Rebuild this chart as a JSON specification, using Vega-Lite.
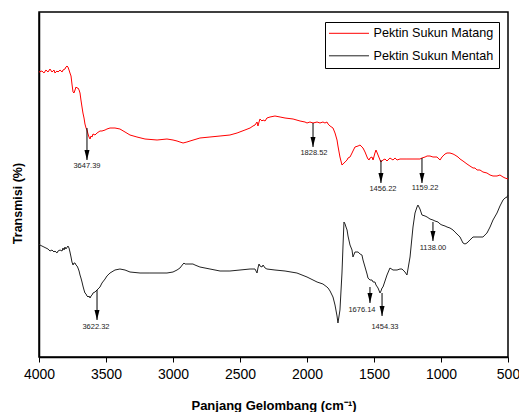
{
  "$schema": "https://vega.github.io/schema/vega-lite/v6.json",
  "width": 469,
  "height": 345,
  "autosize": {"type": "none"},
  "padding": {"left": 39, "top": 12, "right": 11, "bottom": 55},
  "background": "white",
  "config": {
    "font": "Liberation Sans",
    "view": {"stroke": "#000", "strokeWidth": 1.5},
    "axis": {"grid": false, "domainColor": "#000", "domainWidth": 1.5, "tickColor": "#000", "labelColor": "#000", "titleColor": "#000", "labelFont": "Liberation Sans", "titleFont": "Liberation Sans"}
  },
  "datasets": {
    "spec": [
      {"series":"Pektin Sukun Matang","wn":4000,"T":285},
      {"series":"Pektin Sukun Matang","wn":3978,"T":286},
      {"series":"Pektin Sukun Matang","wn":3963,"T":284},
      {"series":"Pektin Sukun Matang","wn":3948,"T":287},
      {"series":"Pektin Sukun Matang","wn":3933,"T":285},
      {"series":"Pektin Sukun Matang","wn":3918,"T":288},
      {"series":"Pektin Sukun Matang","wn":3903,"T":285},
      {"series":"Pektin Sukun Matang","wn":3888,"T":287},
      {"series":"Pektin Sukun Matang","wn":3881,"T":284},
      {"series":"Pektin Sukun Matang","wn":3866,"T":286},
      {"series":"Pektin Sukun Matang","wn":3858,"T":285},
      {"series":"Pektin Sukun Matang","wn":3843,"T":287},
      {"series":"Pektin Sukun Matang","wn":3828,"T":285},
      {"series":"Pektin Sukun Matang","wn":3821,"T":287},
      {"series":"Pektin Sukun Matang","wn":3806,"T":288},
      {"series":"Pektin Sukun Matang","wn":3799,"T":290},
      {"series":"Pektin Sukun Matang","wn":3791,"T":291},
      {"series":"Pektin Sukun Matang","wn":3784,"T":290},
      {"series":"Pektin Sukun Matang","wn":3776,"T":287},
      {"series":"Pektin Sukun Matang","wn":3769,"T":284},
      {"series":"Pektin Sukun Matang","wn":3761,"T":281},
      {"series":"Pektin Sukun Matang","wn":3754,"T":273},
      {"series":"Pektin Sukun Matang","wn":3746,"T":265},
      {"series":"Pektin Sukun Matang","wn":3739,"T":264},
      {"series":"Pektin Sukun Matang","wn":3731,"T":267},
      {"series":"Pektin Sukun Matang","wn":3724,"T":270},
      {"series":"Pektin Sukun Matang","wn":3716,"T":269},
      {"series":"Pektin Sukun Matang","wn":3709,"T":269},
      {"series":"Pektin Sukun Matang","wn":3701,"T":267},
      {"series":"Pektin Sukun Matang","wn":3694,"T":264},
      {"series":"Pektin Sukun Matang","wn":3687,"T":257},
      {"series":"Pektin Sukun Matang","wn":3679,"T":250},
      {"series":"Pektin Sukun Matang","wn":3672,"T":244},
      {"series":"Pektin Sukun Matang","wn":3664,"T":239},
      {"series":"Pektin Sukun Matang","wn":3657,"T":233},
      {"series":"Pektin Sukun Matang","wn":3649,"T":229},
      {"series":"Pektin Sukun Matang","wn":3642,"T":227},
      {"series":"Pektin Sukun Matang","wn":3634,"T":223},
      {"series":"Pektin Sukun Matang","wn":3627,"T":220},
      {"series":"Pektin Sukun Matang","wn":3619,"T":218},
      {"series":"Pektin Sukun Matang","wn":3612,"T":221},
      {"series":"Pektin Sukun Matang","wn":3604,"T":220},
      {"series":"Pektin Sukun Matang","wn":3597,"T":223},
      {"series":"Pektin Sukun Matang","wn":3582,"T":222},
      {"series":"Pektin Sukun Matang","wn":3567,"T":224},
      {"series":"Pektin Sukun Matang","wn":3545,"T":226},
      {"series":"Pektin Sukun Matang","wn":3530,"T":226},
      {"series":"Pektin Sukun Matang","wn":3507,"T":227},
      {"series":"Pektin Sukun Matang","wn":3493,"T":228},
      {"series":"Pektin Sukun Matang","wn":3470,"T":229},
      {"series":"Pektin Sukun Matang","wn":3433,"T":229},
      {"series":"Pektin Sukun Matang","wn":3396,"T":228},
      {"series":"Pektin Sukun Matang","wn":3358,"T":225},
      {"series":"Pektin Sukun Matang","wn":3321,"T":222},
      {"series":"Pektin Sukun Matang","wn":3269,"T":220},
      {"series":"Pektin Sukun Matang","wn":3209,"T":218},
      {"series":"Pektin Sukun Matang","wn":3119,"T":217},
      {"series":"Pektin Sukun Matang","wn":3045,"T":218},
      {"series":"Pektin Sukun Matang","wn":3000,"T":217},
      {"series":"Pektin Sukun Matang","wn":2970,"T":216},
      {"series":"Pektin Sukun Matang","wn":2948,"T":215},
      {"series":"Pektin Sukun Matang","wn":2925,"T":214},
      {"series":"Pektin Sukun Matang","wn":2896,"T":215},
      {"series":"Pektin Sukun Matang","wn":2873,"T":216},
      {"series":"Pektin Sukun Matang","wn":2799,"T":219},
      {"series":"Pektin Sukun Matang","wn":2724,"T":220},
      {"series":"Pektin Sukun Matang","wn":2649,"T":221},
      {"series":"Pektin Sukun Matang","wn":2575,"T":222},
      {"series":"Pektin Sukun Matang","wn":2522,"T":224},
      {"series":"Pektin Sukun Matang","wn":2463,"T":227},
      {"series":"Pektin Sukun Matang","wn":2425,"T":229},
      {"series":"Pektin Sukun Matang","wn":2403,"T":231},
      {"series":"Pektin Sukun Matang","wn":2388,"T":232},
      {"series":"Pektin Sukun Matang","wn":2373,"T":235},
      {"series":"Pektin Sukun Matang","wn":2366,"T":231},
      {"series":"Pektin Sukun Matang","wn":2358,"T":235},
      {"series":"Pektin Sukun Matang","wn":2351,"T":238},
      {"series":"Pektin Sukun Matang","wn":2336,"T":236},
      {"series":"Pektin Sukun Matang","wn":2328,"T":237},
      {"series":"Pektin Sukun Matang","wn":2313,"T":236},
      {"series":"Pektin Sukun Matang","wn":2299,"T":239},
      {"series":"Pektin Sukun Matang","wn":2276,"T":240},
      {"series":"Pektin Sukun Matang","wn":2239,"T":241},
      {"series":"Pektin Sukun Matang","wn":2201,"T":240},
      {"series":"Pektin Sukun Matang","wn":2164,"T":239},
      {"series":"Pektin Sukun Matang","wn":2104,"T":238},
      {"series":"Pektin Sukun Matang","wn":2052,"T":236},
      {"series":"Pektin Sukun Matang","wn":2015,"T":235},
      {"series":"Pektin Sukun Matang","wn":2000,"T":234},
      {"series":"Pektin Sukun Matang","wn":1978,"T":235},
      {"series":"Pektin Sukun Matang","wn":1955,"T":234},
      {"series":"Pektin Sukun Matang","wn":1925,"T":235},
      {"series":"Pektin Sukun Matang","wn":1903,"T":234},
      {"series":"Pektin Sukun Matang","wn":1881,"T":235},
      {"series":"Pektin Sukun Matang","wn":1866,"T":234},
      {"series":"Pektin Sukun Matang","wn":1851,"T":235},
      {"series":"Pektin Sukun Matang","wn":1843,"T":233},
      {"series":"Pektin Sukun Matang","wn":1828,"T":231},
      {"series":"Pektin Sukun Matang","wn":1806,"T":229},
      {"series":"Pektin Sukun Matang","wn":1791,"T":224},
      {"series":"Pektin Sukun Matang","wn":1776,"T":217},
      {"series":"Pektin Sukun Matang","wn":1769,"T":211},
      {"series":"Pektin Sukun Matang","wn":1754,"T":200},
      {"series":"Pektin Sukun Matang","wn":1739,"T":192},
      {"series":"Pektin Sukun Matang","wn":1731,"T":193},
      {"series":"Pektin Sukun Matang","wn":1716,"T":195},
      {"series":"Pektin Sukun Matang","wn":1701,"T":197},
      {"series":"Pektin Sukun Matang","wn":1694,"T":199},
      {"series":"Pektin Sukun Matang","wn":1679,"T":200},
      {"series":"Pektin Sukun Matang","wn":1664,"T":204},
      {"series":"Pektin Sukun Matang","wn":1657,"T":206},
      {"series":"Pektin Sukun Matang","wn":1642,"T":210},
      {"series":"Pektin Sukun Matang","wn":1619,"T":211},
      {"series":"Pektin Sukun Matang","wn":1604,"T":212},
      {"series":"Pektin Sukun Matang","wn":1590,"T":210},
      {"series":"Pektin Sukun Matang","wn":1582,"T":209},
      {"series":"Pektin Sukun Matang","wn":1567,"T":205},
      {"series":"Pektin Sukun Matang","wn":1552,"T":200},
      {"series":"Pektin Sukun Matang","wn":1545,"T":198},
      {"series":"Pektin Sukun Matang","wn":1537,"T":197},
      {"series":"Pektin Sukun Matang","wn":1530,"T":199},
      {"series":"Pektin Sukun Matang","wn":1515,"T":200},
      {"series":"Pektin Sukun Matang","wn":1507,"T":197},
      {"series":"Pektin Sukun Matang","wn":1493,"T":204},
      {"series":"Pektin Sukun Matang","wn":1485,"T":207},
      {"series":"Pektin Sukun Matang","wn":1470,"T":202},
      {"series":"Pektin Sukun Matang","wn":1455,"T":197},
      {"series":"Pektin Sukun Matang","wn":1448,"T":195},
      {"series":"Pektin Sukun Matang","wn":1433,"T":197},
      {"series":"Pektin Sukun Matang","wn":1418,"T":198},
      {"series":"Pektin Sukun Matang","wn":1403,"T":196},
      {"series":"Pektin Sukun Matang","wn":1381,"T":199},
      {"series":"Pektin Sukun Matang","wn":1358,"T":197},
      {"series":"Pektin Sukun Matang","wn":1343,"T":199},
      {"series":"Pektin Sukun Matang","wn":1328,"T":197},
      {"series":"Pektin Sukun Matang","wn":1306,"T":198},
      {"series":"Pektin Sukun Matang","wn":1254,"T":198},
      {"series":"Pektin Sukun Matang","wn":1209,"T":198},
      {"series":"Pektin Sukun Matang","wn":1179,"T":198},
      {"series":"Pektin Sukun Matang","wn":1157,"T":198},
      {"series":"Pektin Sukun Matang","wn":1142,"T":199},
      {"series":"Pektin Sukun Matang","wn":1119,"T":200},
      {"series":"Pektin Sukun Matang","wn":1104,"T":201},
      {"series":"Pektin Sukun Matang","wn":1082,"T":201},
      {"series":"Pektin Sukun Matang","wn":1060,"T":200},
      {"series":"Pektin Sukun Matang","wn":1030,"T":200},
      {"series":"Pektin Sukun Matang","wn":1007,"T":197},
      {"series":"Pektin Sukun Matang","wn":993,"T":200},
      {"series":"Pektin Sukun Matang","wn":970,"T":203},
      {"series":"Pektin Sukun Matang","wn":955,"T":204},
      {"series":"Pektin Sukun Matang","wn":933,"T":204},
      {"series":"Pektin Sukun Matang","wn":910,"T":203},
      {"series":"Pektin Sukun Matang","wn":896,"T":202},
      {"series":"Pektin Sukun Matang","wn":873,"T":200},
      {"series":"Pektin Sukun Matang","wn":858,"T":198},
      {"series":"Pektin Sukun Matang","wn":836,"T":196},
      {"series":"Pektin Sukun Matang","wn":806,"T":193},
      {"series":"Pektin Sukun Matang","wn":784,"T":191},
      {"series":"Pektin Sukun Matang","wn":761,"T":189},
      {"series":"Pektin Sukun Matang","wn":746,"T":189},
      {"series":"Pektin Sukun Matang","wn":731,"T":187},
      {"series":"Pektin Sukun Matang","wn":709,"T":187},
      {"series":"Pektin Sukun Matang","wn":687,"T":185},
      {"series":"Pektin Sukun Matang","wn":657,"T":184},
      {"series":"Pektin Sukun Matang","wn":634,"T":182},
      {"series":"Pektin Sukun Matang","wn":612,"T":181},
      {"series":"Pektin Sukun Matang","wn":582,"T":181},
      {"series":"Pektin Sukun Matang","wn":560,"T":182},
      {"series":"Pektin Sukun Matang","wn":537,"T":180},
      {"series":"Pektin Sukun Matang","wn":522,"T":179},
      {"series":"Pektin Sukun Matang","wn":500,"T":178},
      {"series":"Pektin Sukun Mentah","wn":4000,"T":113},
      {"series":"Pektin Sukun Mentah","wn":3993,"T":112},
      {"series":"Pektin Sukun Mentah","wn":3978,"T":111},
      {"series":"Pektin Sukun Mentah","wn":3963,"T":110},
      {"series":"Pektin Sukun Mentah","wn":3948,"T":109},
      {"series":"Pektin Sukun Mentah","wn":3933,"T":108},
      {"series":"Pektin Sukun Mentah","wn":3918,"T":106},
      {"series":"Pektin Sukun Mentah","wn":3903,"T":107},
      {"series":"Pektin Sukun Mentah","wn":3888,"T":105},
      {"series":"Pektin Sukun Mentah","wn":3881,"T":106},
      {"series":"Pektin Sukun Mentah","wn":3866,"T":104},
      {"series":"Pektin Sukun Mentah","wn":3858,"T":106},
      {"series":"Pektin Sukun Mentah","wn":3843,"T":107},
      {"series":"Pektin Sukun Mentah","wn":3828,"T":106},
      {"series":"Pektin Sukun Mentah","wn":3821,"T":109},
      {"series":"Pektin Sukun Mentah","wn":3813,"T":107},
      {"series":"Pektin Sukun Mentah","wn":3806,"T":110},
      {"series":"Pektin Sukun Mentah","wn":3799,"T":108},
      {"series":"Pektin Sukun Mentah","wn":3784,"T":111},
      {"series":"Pektin Sukun Mentah","wn":3776,"T":109},
      {"series":"Pektin Sukun Mentah","wn":3769,"T":105},
      {"series":"Pektin Sukun Mentah","wn":3761,"T":100},
      {"series":"Pektin Sukun Mentah","wn":3754,"T":95},
      {"series":"Pektin Sukun Mentah","wn":3746,"T":92},
      {"series":"Pektin Sukun Mentah","wn":3739,"T":94},
      {"series":"Pektin Sukun Mentah","wn":3731,"T":94},
      {"series":"Pektin Sukun Mentah","wn":3724,"T":92},
      {"series":"Pektin Sukun Mentah","wn":3716,"T":91},
      {"series":"Pektin Sukun Mentah","wn":3709,"T":89},
      {"series":"Pektin Sukun Mentah","wn":3701,"T":86},
      {"series":"Pektin Sukun Mentah","wn":3694,"T":82},
      {"series":"Pektin Sukun Mentah","wn":3687,"T":79},
      {"series":"Pektin Sukun Mentah","wn":3679,"T":75},
      {"series":"Pektin Sukun Mentah","wn":3672,"T":71},
      {"series":"Pektin Sukun Mentah","wn":3664,"T":67},
      {"series":"Pektin Sukun Mentah","wn":3657,"T":64},
      {"series":"Pektin Sukun Mentah","wn":3649,"T":63},
      {"series":"Pektin Sukun Mentah","wn":3642,"T":61},
      {"series":"Pektin Sukun Mentah","wn":3634,"T":60},
      {"series":"Pektin Sukun Mentah","wn":3627,"T":61},
      {"series":"Pektin Sukun Mentah","wn":3619,"T":59},
      {"series":"Pektin Sukun Mentah","wn":3612,"T":61},
      {"series":"Pektin Sukun Mentah","wn":3604,"T":62},
      {"series":"Pektin Sukun Mentah","wn":3597,"T":64},
      {"series":"Pektin Sukun Mentah","wn":3582,"T":65},
      {"series":"Pektin Sukun Mentah","wn":3567,"T":67},
      {"series":"Pektin Sukun Mentah","wn":3545,"T":70},
      {"series":"Pektin Sukun Mentah","wn":3530,"T":74},
      {"series":"Pektin Sukun Mentah","wn":3507,"T":78},
      {"series":"Pektin Sukun Mentah","wn":3493,"T":81},
      {"series":"Pektin Sukun Mentah","wn":3470,"T":84},
      {"series":"Pektin Sukun Mentah","wn":3433,"T":87},
      {"series":"Pektin Sukun Mentah","wn":3396,"T":88},
      {"series":"Pektin Sukun Mentah","wn":3358,"T":87},
      {"series":"Pektin Sukun Mentah","wn":3321,"T":85},
      {"series":"Pektin Sukun Mentah","wn":3246,"T":84},
      {"series":"Pektin Sukun Mentah","wn":3172,"T":84},
      {"series":"Pektin Sukun Mentah","wn":3097,"T":84},
      {"series":"Pektin Sukun Mentah","wn":3045,"T":84},
      {"series":"Pektin Sukun Mentah","wn":3000,"T":85},
      {"series":"Pektin Sukun Mentah","wn":2970,"T":87},
      {"series":"Pektin Sukun Mentah","wn":2948,"T":89},
      {"series":"Pektin Sukun Mentah","wn":2925,"T":93},
      {"series":"Pektin Sukun Mentah","wn":2918,"T":94},
      {"series":"Pektin Sukun Mentah","wn":2910,"T":93},
      {"series":"Pektin Sukun Mentah","wn":2896,"T":93},
      {"series":"Pektin Sukun Mentah","wn":2873,"T":93},
      {"series":"Pektin Sukun Mentah","wn":2851,"T":93},
      {"series":"Pektin Sukun Mentah","wn":2836,"T":92},
      {"series":"Pektin Sukun Mentah","wn":2799,"T":90},
      {"series":"Pektin Sukun Mentah","wn":2724,"T":88},
      {"series":"Pektin Sukun Mentah","wn":2649,"T":86},
      {"series":"Pektin Sukun Mentah","wn":2575,"T":86},
      {"series":"Pektin Sukun Mentah","wn":2500,"T":87},
      {"series":"Pektin Sukun Mentah","wn":2425,"T":88},
      {"series":"Pektin Sukun Mentah","wn":2388,"T":88},
      {"series":"Pektin Sukun Mentah","wn":2373,"T":84},
      {"series":"Pektin Sukun Mentah","wn":2366,"T":89},
      {"series":"Pektin Sukun Mentah","wn":2358,"T":93},
      {"series":"Pektin Sukun Mentah","wn":2351,"T":91},
      {"series":"Pektin Sukun Mentah","wn":2336,"T":90},
      {"series":"Pektin Sukun Mentah","wn":2328,"T":92},
      {"series":"Pektin Sukun Mentah","wn":2313,"T":89},
      {"series":"Pektin Sukun Mentah","wn":2299,"T":88},
      {"series":"Pektin Sukun Mentah","wn":2239,"T":87},
      {"series":"Pektin Sukun Mentah","wn":2164,"T":86},
      {"series":"Pektin Sukun Mentah","wn":2075,"T":84},
      {"series":"Pektin Sukun Mentah","wn":2000,"T":80},
      {"series":"Pektin Sukun Mentah","wn":1925,"T":75},
      {"series":"Pektin Sukun Mentah","wn":1881,"T":73},
      {"series":"Pektin Sukun Mentah","wn":1851,"T":70},
      {"series":"Pektin Sukun Mentah","wn":1843,"T":69},
      {"series":"Pektin Sukun Mentah","wn":1828,"T":66},
      {"series":"Pektin Sukun Mentah","wn":1806,"T":60},
      {"series":"Pektin Sukun Mentah","wn":1791,"T":52},
      {"series":"Pektin Sukun Mentah","wn":1776,"T":41},
      {"series":"Pektin Sukun Mentah","wn":1769,"T":34},
      {"series":"Pektin Sukun Mentah","wn":1754,"T":47},
      {"series":"Pektin Sukun Mentah","wn":1739,"T":84},
      {"series":"Pektin Sukun Mentah","wn":1731,"T":112},
      {"series":"Pektin Sukun Mentah","wn":1724,"T":135},
      {"series":"Pektin Sukun Mentah","wn":1716,"T":133},
      {"series":"Pektin Sukun Mentah","wn":1709,"T":130},
      {"series":"Pektin Sukun Mentah","wn":1701,"T":127},
      {"series":"Pektin Sukun Mentah","wn":1694,"T":121},
      {"series":"Pektin Sukun Mentah","wn":1679,"T":112},
      {"series":"Pektin Sukun Mentah","wn":1664,"T":107},
      {"series":"Pektin Sukun Mentah","wn":1657,"T":100},
      {"series":"Pektin Sukun Mentah","wn":1642,"T":105},
      {"series":"Pektin Sukun Mentah","wn":1619,"T":105},
      {"series":"Pektin Sukun Mentah","wn":1604,"T":103},
      {"series":"Pektin Sukun Mentah","wn":1590,"T":102},
      {"series":"Pektin Sukun Mentah","wn":1582,"T":97},
      {"series":"Pektin Sukun Mentah","wn":1567,"T":90},
      {"series":"Pektin Sukun Mentah","wn":1552,"T":83},
      {"series":"Pektin Sukun Mentah","wn":1545,"T":79},
      {"series":"Pektin Sukun Mentah","wn":1530,"T":77},
      {"series":"Pektin Sukun Mentah","wn":1515,"T":77},
      {"series":"Pektin Sukun Mentah","wn":1507,"T":75},
      {"series":"Pektin Sukun Mentah","wn":1493,"T":75},
      {"series":"Pektin Sukun Mentah","wn":1485,"T":72},
      {"series":"Pektin Sukun Mentah","wn":1470,"T":69},
      {"series":"Pektin Sukun Mentah","wn":1455,"T":64},
      {"series":"Pektin Sukun Mentah","wn":1448,"T":66},
      {"series":"Pektin Sukun Mentah","wn":1440,"T":69},
      {"series":"Pektin Sukun Mentah","wn":1433,"T":70},
      {"series":"Pektin Sukun Mentah","wn":1418,"T":76},
      {"series":"Pektin Sukun Mentah","wn":1403,"T":82},
      {"series":"Pektin Sukun Mentah","wn":1381,"T":89},
      {"series":"Pektin Sukun Mentah","wn":1358,"T":87},
      {"series":"Pektin Sukun Mentah","wn":1328,"T":87},
      {"series":"Pektin Sukun Mentah","wn":1306,"T":88},
      {"series":"Pektin Sukun Mentah","wn":1291,"T":88},
      {"series":"Pektin Sukun Mentah","wn":1269,"T":85},
      {"series":"Pektin Sukun Mentah","wn":1254,"T":82},
      {"series":"Pektin Sukun Mentah","wn":1231,"T":100},
      {"series":"Pektin Sukun Mentah","wn":1209,"T":130},
      {"series":"Pektin Sukun Mentah","wn":1194,"T":144},
      {"series":"Pektin Sukun Mentah","wn":1179,"T":150},
      {"series":"Pektin Sukun Mentah","wn":1172,"T":152},
      {"series":"Pektin Sukun Mentah","wn":1157,"T":148},
      {"series":"Pektin Sukun Mentah","wn":1142,"T":142},
      {"series":"Pektin Sukun Mentah","wn":1119,"T":141},
      {"series":"Pektin Sukun Mentah","wn":1104,"T":140},
      {"series":"Pektin Sukun Mentah","wn":1082,"T":138},
      {"series":"Pektin Sukun Mentah","wn":1060,"T":137},
      {"series":"Pektin Sukun Mentah","wn":1045,"T":136},
      {"series":"Pektin Sukun Mentah","wn":1022,"T":135},
      {"series":"Pektin Sukun Mentah","wn":1007,"T":133},
      {"series":"Pektin Sukun Mentah","wn":993,"T":132},
      {"series":"Pektin Sukun Mentah","wn":970,"T":131},
      {"series":"Pektin Sukun Mentah","wn":955,"T":130},
      {"series":"Pektin Sukun Mentah","wn":933,"T":129},
      {"series":"Pektin Sukun Mentah","wn":910,"T":127},
      {"series":"Pektin Sukun Mentah","wn":896,"T":125},
      {"series":"Pektin Sukun Mentah","wn":873,"T":122},
      {"series":"Pektin Sukun Mentah","wn":858,"T":120},
      {"series":"Pektin Sukun Mentah","wn":836,"T":114},
      {"series":"Pektin Sukun Mentah","wn":821,"T":113},
      {"series":"Pektin Sukun Mentah","wn":806,"T":114},
      {"series":"Pektin Sukun Mentah","wn":784,"T":117},
      {"series":"Pektin Sukun Mentah","wn":761,"T":120},
      {"series":"Pektin Sukun Mentah","wn":731,"T":120},
      {"series":"Pektin Sukun Mentah","wn":709,"T":120},
      {"series":"Pektin Sukun Mentah","wn":687,"T":120},
      {"series":"Pektin Sukun Mentah","wn":657,"T":124},
      {"series":"Pektin Sukun Mentah","wn":634,"T":130},
      {"series":"Pektin Sukun Mentah","wn":612,"T":137},
      {"series":"Pektin Sukun Mentah","wn":582,"T":144},
      {"series":"Pektin Sukun Mentah","wn":560,"T":151},
      {"series":"Pektin Sukun Mentah","wn":537,"T":157},
      {"series":"Pektin Sukun Mentah","wn":522,"T":159},
      {"series":"Pektin Sukun Mentah","wn":507,"T":160},
      {"series":"Pektin Sukun Mentah","wn":500,"T":162}
    ],
    "ann": [
      {"label":"3647.39","ax":3642,"top":229,"tip":197,"lx":3642,"ly":191},
      {"label":"1828.52","ax":1955,"top":234,"tip":210,"lx":1948,"ly":204},
      {"label":"1456.22","ax":1448,"top":197,"tip":174,"lx":1433,"ly":168},
      {"label":"1159.22","ax":1142,"top":199,"tip":174,"lx":1119,"ly":169},
      {"label":"3622.32","ax":3567,"top":67,"tip":37,"lx":3575,"ly":30},
      {"label":"1676.14","ax":1530,"top":70,"tip":54,"lx":1590,"ly":47},
      {"label":"1454.33","ax":1440,"top":64,"tip":41,"lx":1418,"ly":30},
      {"label":"1138.00","ax":1060,"top":135,"tip":116,"lx":1060,"ly":109}
    ]
  },
  "layer": [
    {
      "data": {"name": "spec"},
      "mark": {"type": "line", "strokeWidth": 1},
      "encoding": {
        "x": {
          "field": "wn", "type": "quantitative", "title": "Panjang Gelombang (cm⁻¹)",
          "scale": {"domain": [500, 4000], "reverse": true, "nice": false, "zero": false},
          "axis": {
            "values": [4000, 3750, 3500, 3250, 3000, 2750, 2500, 2250, 2000, 1750, 1500, 1250, 1000, 750, 500],
            "format": "d",
            "labelExpr": "datum.value % 500 === 0 ? datum.label : ''",
            "tickSize": {"condition": {"test": "datum.value % 500 === 0", "value": 5}, "value": 3},
            "tickWidth": 1,
            "labelFontSize": 14,
            "labelPadding": 5,
            "labelOverlap": false,
            "labelFlush": false,
            "titleFontSize": 13,
            "titleFontWeight": "bold",
            "titleY": 48,
            "titleBaseline": "middle"
          }
        },
        "y": {
          "field": "T", "type": "quantitative", "title": "Transmisi (%)",
          "scale": {"domain": [0, 345], "nice": false, "zero": false},
          "axis": {"ticks": false, "labels": false, "titleFontSize": 12.5, "titleFontWeight": "bold", "titleX": -22, "titleY": 191, "titleAngle": -90, "titleBaseline": "middle", "titleAlign": "center"}
        },
        "color": {
          "field": "series", "type": "nominal",
          "scale": {"domain": ["Pektin Sukun Matang", "Pektin Sukun Mentah"], "range": ["#ff0000", "#222222"]},
          "legend": {
            "title": null, "orient": "none", "legendX": 286, "legendY": 10,
            "strokeColor": "#000", "fillColor": "white", "padding": 5,
            "symbolType": "M-1.46,0L6.54,0", "symbolSize": 100, "symbolStrokeWidth": 1,
            "labelFontSize": 12.6, "labelOffset": 31, "rowPadding": 9.5, "labelColor": "#000", "labelFont": "Liberation Sans"
          }
        }
      }
    },
    {
      "data": {"name": "ann"},
      "mark": {"type": "rule", "color": "#000", "strokeWidth": 1},
      "encoding": {
        "x": {"field": "ax", "type": "quantitative", "title": "Panjang Gelombang (cm⁻¹)"},
        "y": {"field": "top", "type": "quantitative", "title": "Transmisi (%)"},
        "y2": {"field": "tip"}
      }
    },
    {
      "data": {"name": "ann"},
      "mark": {"type": "point", "shape": "M-0.5,-2L0.5,-2L0,0Z", "size": 100, "filled": true, "color": "#000", "opacity": 1},
      "encoding": {
        "x": {"field": "ax", "type": "quantitative", "title": "Panjang Gelombang (cm⁻¹)"},
        "y": {"field": "tip", "type": "quantitative", "title": "Transmisi (%)"}
      }
    },
    {
      "data": {"name": "ann"},
      "mark": {"type": "text", "fontSize": 7.5, "color": "#222", "baseline": "middle", "align": "center", "font": "Liberation Sans"},
      "encoding": {
        "x": {"field": "lx", "type": "quantitative", "title": "Panjang Gelombang (cm⁻¹)"},
        "y": {"field": "ly", "type": "quantitative", "title": "Transmisi (%)"},
        "text": {"field": "label"}
      }
    }
  ]
}
